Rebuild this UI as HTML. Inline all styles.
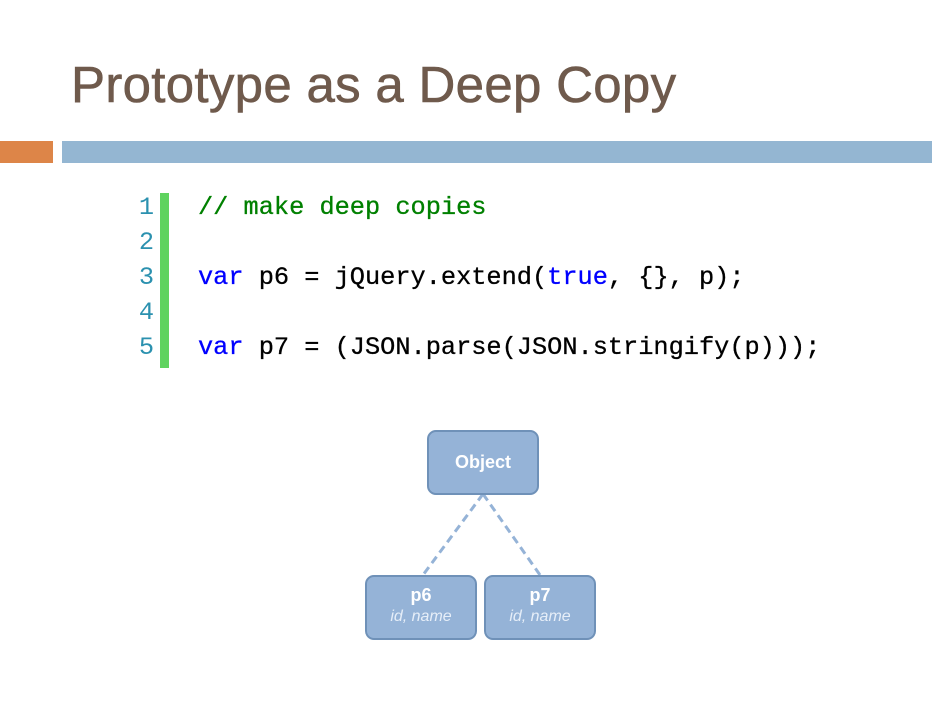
<!DOCTYPE html>
<html><head><style>
body{margin:0;width:932px;height:720px;background:#fff;position:relative;overflow:hidden;font-family:"Liberation Sans",sans-serif}
.t{position:absolute;left:71px;top:55px;font-size:51px;color:#6f5a4c;letter-spacing:0.3px;-webkit-text-stroke:0.6px #6f5a4c}
.code{position:absolute;left:198px;top:190px;font-family:"Liberation Mono",monospace;font-size:25.3px;line-height:35px;color:#000;white-space:pre;-webkit-text-stroke:0.3px}
.num{position:absolute;left:120px;width:34px;top:190px;text-align:right;font-family:"Liberation Mono",monospace;font-size:25.3px;line-height:35px;color:#2b91af;white-space:pre}
.k{color:#0000ff}.c{color:#008000}
.b{position:absolute;background:#95b3d7;border:2px solid #6f91b8;border-radius:9px;color:#fff;text-align:center;box-sizing:border-box}
</style></head><body>
<div class="t">Prototype as a Deep Copy</div>
<div style="position:absolute;left:0;top:141px;width:53px;height:22px;background:#dd8548"></div>
<div style="position:absolute;left:62px;top:141px;width:870px;height:22px;background:#94b6d2"></div>
<div style="position:absolute;left:160px;top:193px;width:9px;height:175px;background:#5fd35f"></div>
<div class="num">1
2
3
4
5</div>
<div class="code"><span class="c">// make deep copies</span>

<span class="k">var</span> p6 = jQuery.extend(<span class="k">true</span>, {}, p);

<span class="k">var</span> p7 = (JSON.parse(JSON.stringify(p)));</div>
<svg style="position:absolute;left:0;top:0" width="932" height="720"><g stroke="#95b3d7" stroke-width="3" stroke-dasharray="8,5" fill="none"><line x1="483" y1="494" x2="423" y2="575"/><line x1="483" y1="494" x2="540" y2="575"/></g></svg>
<div class="b" style="left:427px;top:430px;width:112px;height:65px;font-weight:bold;font-size:18px;line-height:61px">Object</div>
<div class="b" style="left:365px;top:575px;width:112px;height:65px"><div style="font-weight:bold;font-size:18px;margin-top:8px">p6</div><div style="font-style:italic;font-size:16px;color:#e6eef8;margin-top:2px">id, name</div></div>
<div class="b" style="left:484px;top:575px;width:112px;height:65px"><div style="font-weight:bold;font-size:18px;margin-top:8px">p7</div><div style="font-style:italic;font-size:16px;color:#e6eef8;margin-top:2px">id, name</div></div>
</body></html>
